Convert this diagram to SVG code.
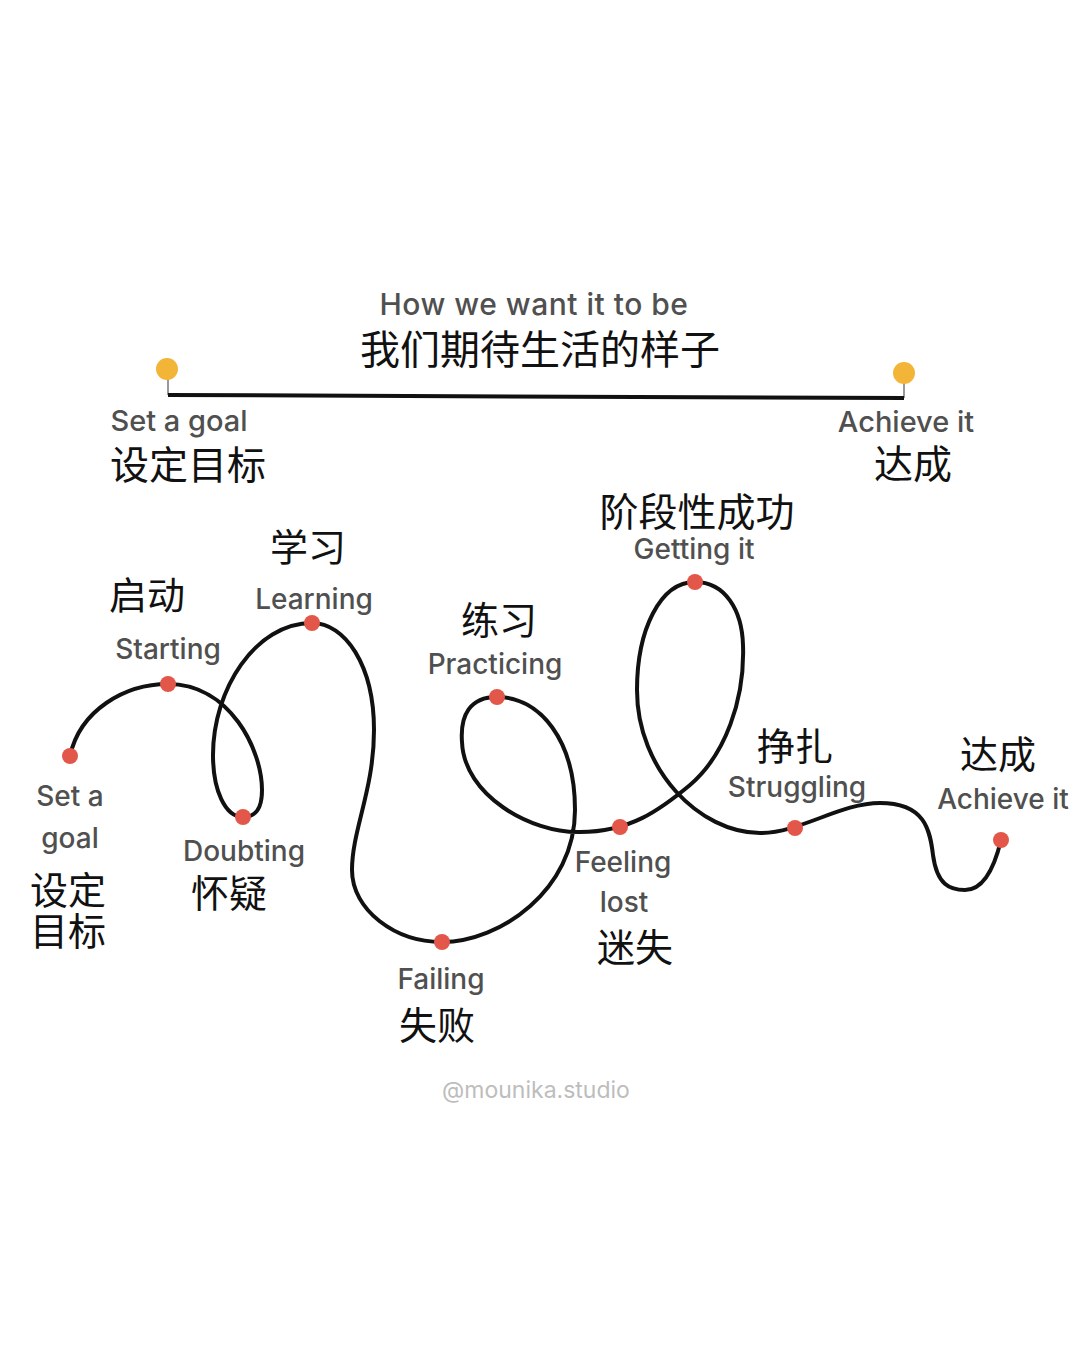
<svg xmlns="http://www.w3.org/2000/svg" width="1080" height="1350" viewBox="0 0 1080 1350">
<style>
.en{font-family:Inter,"Noto Sans","Liberation Sans",sans-serif;font-size:28px;font-weight:500;fill:#505050;text-anchor:middle}
.zh{font-family:"Noto Sans CJK SC","Noto Sans",sans-serif;font-size:38px;fill:#111;text-anchor:middle}
.dot{fill:#e2574a}
.ydot{fill:#f2b538}
.stem{stroke:#999;stroke-width:2}
.road{fill:none;stroke:#111;stroke-width:4;stroke-linecap:round;stroke-linejoin:round}
</style>
<rect width="1080" height="1350" fill="#fff"/>

<g id="ideal">
  <text class="en" x="534" y="315" style="font-size:30px;letter-spacing:0.5px">How we want it to be</text>
  <text class="zh" x="540" y="364" style="font-size:40px">我们期待生活的样子</text>
  <line class="stem" x1="168" y1="372" x2="168" y2="395"/>
  <line class="stem" x1="904" y1="376" x2="904" y2="398"/>
  <line x1="168" y1="395" x2="904" y2="398" stroke="#111" stroke-width="4"/>
  <circle class="ydot" cx="167" cy="369" r="11"/>
  <circle class="ydot" cx="904" cy="373" r="11"/>
</g>
<g id="ideal-start">
  <text class="en" x="179" y="431" style="font-size:29px">Set a goal</text>
  <text class="zh" x="188" y="479" style="font-size:39px">设定目标</text>
</g>
<g id="ideal-end">
  <text class="en" x="906" y="432" style="font-size:29px">Achieve it</text>
  <text class="zh" x="913" y="478" style="font-size:39px">达成</text>
</g>

<g id="connectors">
  <path class="road" d="M70,756 C80,710 125,684 168,684 C230,684 262,750 262,790 C262,810 255,817 243,817 C225,817 213,790 213,755 C213,690 255,623 312,623 C345,623 374,665 374,730 C374,790 352,830 352,870 C352,910 395,942 442,942 C500,942 575,890 575,810 C575,740 540,697 497,697 C470,697 460,715 462,742 C464,795 530,833 580,832 C630,832 660,810 690,785 C725,755 745,700 743,645 C742,610 725,582 695,582 C660,582 637,630 637,690 C637,770 700,833 760,833 C800,833 840,803 880,803 C925,803 930,830 933,855 C937,885 950,890 965,890 C985,890 995,865 1001,840"/>
</g>

<g id="set-goal">
  <circle class="dot" cx="70" cy="756" r="8"/>
  <text class="en" x="70" y="806">Set a</text>
  <text class="en" x="70" y="848">goal</text>
  <text class="zh" x="68" y="904">设定</text>
  <text class="zh" x="68" y="945">目标</text>
</g>
<g id="starting">
  <circle class="dot" cx="168" cy="684" r="8"/>
  <text class="en" x="168" y="659">Starting</text>
  <text class="zh" x="147" y="609">启动</text>
</g>
<g id="doubting">
  <circle class="dot" cx="243" cy="817" r="8"/>
  <text class="en" x="244" y="861">Doubting</text>
  <text class="zh" x="229" y="907">怀疑</text>
</g>
<g id="learning">
  <circle class="dot" cx="312" cy="623" r="8"/>
  <text class="en" x="314" y="609">Learning</text>
  <text class="zh" x="308" y="561">学习</text>
</g>
<g id="failing">
  <circle class="dot" cx="442" cy="942" r="8"/>
  <text class="en" x="441" y="989">Failing</text>
  <text class="zh" x="437" y="1039">失败</text>
</g>
<g id="practicing">
  <circle class="dot" cx="497" cy="697" r="8"/>
  <text class="en" x="495" y="674">Practicing</text>
  <text class="zh" x="499" y="634">练习</text>
</g>
<g id="feeling-lost">
  <circle class="dot" cx="620" cy="827" r="8"/>
  <text class="en" x="623" y="872">Feeling</text>
  <text class="en" x="624" y="912">lost</text>
  <text class="zh" x="635" y="961">迷失</text>
</g>
<g id="getting-it">
  <circle class="dot" cx="695" cy="582" r="8"/>
  <text class="en" x="694" y="559">Getting it</text>
  <text class="zh" x="697" y="526" style="font-size:39px">阶段性成功</text>
</g>
<g id="struggling">
  <circle class="dot" cx="795" cy="828" r="8"/>
  <text class="en" x="797" y="797">Struggling</text>
  <text class="zh" x="795" y="760">挣扎</text>
</g>
<g id="achieve-it">
  <circle class="dot" cx="1001" cy="840" r="8"/>
  <text class="en" x="1003" y="809">Achieve it</text>
  <text class="zh" x="998" y="768">达成</text>
</g>

<text class="en" x="536" y="1098" style="font-size:23px;font-weight:400;fill:#bdbdbd">@mounika.studio</text>
</svg>
